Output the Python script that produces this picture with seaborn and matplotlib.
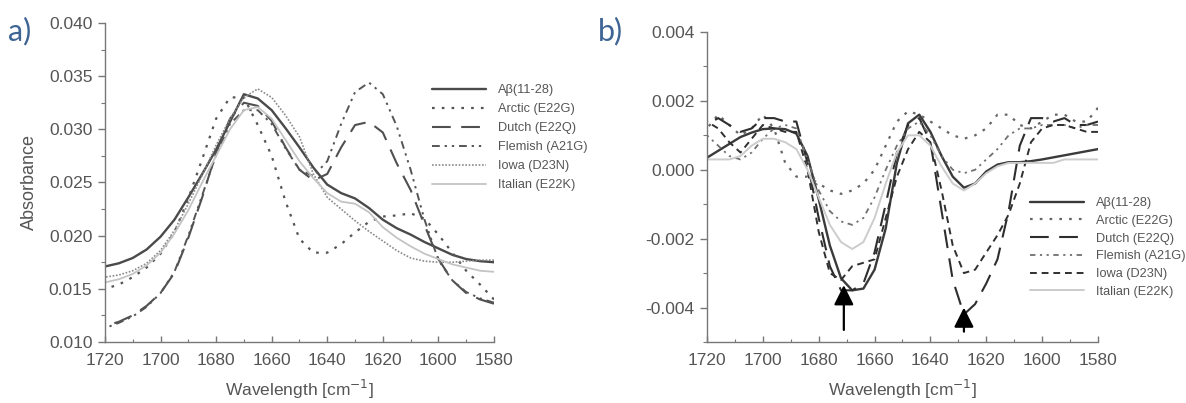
import numpy as np
import pandas as pd
import matplotlib
matplotlib.use("Agg")
import matplotlib.pyplot as plt
from matplotlib.ticker import MultipleLocator, FormatStrFormatter
import seaborn as sns

# Panel a: absorbance spectra, sampled every 5 cm-1
wn_a = list(range(1720, 1579, -5))
abs_ab = [0.0171, 0.0174, 0.0179, 0.0187, 0.0199, 0.0215, 0.0236, 0.0258, 0.0281, 0.0307,
          0.0333, 0.0329, 0.0318, 0.0301, 0.0283, 0.0264, 0.0248, 0.0240, 0.0235, 0.0226,
          0.0215, 0.0207, 0.0201, 0.0194, 0.0188, 0.0182, 0.0178, 0.0176, 0.0175]
abs_arctic = [0.0150, 0.0154, 0.0161, 0.0170, 0.0183, 0.0203, 0.0235, 0.0272, 0.0310, 0.0330,
              0.0330, 0.0304, 0.0275, 0.0232, 0.0197, 0.0184, 0.0184, 0.0192, 0.0203, 0.0213,
              0.0218, 0.0219, 0.0221, 0.0216, 0.0201, 0.0184, 0.0167, 0.0154, 0.0140]
abs_dutch = [0.0115, 0.0119, 0.0125, 0.0134, 0.0146, 0.0165, 0.0198, 0.0236, 0.0278, 0.0310,
             0.0325, 0.0322, 0.0308, 0.0283, 0.0262, 0.0252, 0.0258, 0.0283, 0.0304, 0.0307,
             0.0297, 0.0268, 0.0243, 0.0210, 0.0178, 0.0158, 0.0146, 0.0140, 0.0136]
abs_flemish = [0.0113, 0.0118, 0.0124, 0.0133, 0.0146, 0.0166, 0.0200, 0.0238, 0.0276, 0.0305,
               0.0318, 0.0318, 0.0305, 0.0282, 0.0262, 0.0256, 0.0270, 0.0305, 0.0335, 0.0344,
               0.0333, 0.0303, 0.0262, 0.0215, 0.0177, 0.0158, 0.0147, 0.0141, 0.0137]
abs_iowa = [0.0161, 0.0163, 0.0167, 0.0174, 0.0186, 0.0205, 0.0230, 0.0257, 0.0285, 0.0310,
            0.0330, 0.0338, 0.0330, 0.0313, 0.0293, 0.0258, 0.0236, 0.0225, 0.0214, 0.0204,
            0.0195, 0.0186, 0.0179, 0.0176, 0.0175, 0.0175, 0.0176, 0.0177, 0.0177]
abs_italian = [0.0156, 0.0159, 0.0164, 0.0172, 0.0184, 0.0202, 0.0224, 0.0250, 0.0275, 0.0300,
               0.0318, 0.0321, 0.0310, 0.0290, 0.0270, 0.0254, 0.0240, 0.0232, 0.0230, 0.0222,
               0.0208, 0.0198, 0.0190, 0.0183, 0.0178, 0.0173, 0.0170, 0.0167, 0.0166]

# Panel b: second derivative, sampled every 4 cm-1
wn_b = list(range(1720, 1579, -4))
d2_ab = [0.00035, 0.00055, 0.00075, 0.00095, 0.00108, 0.00118, 0.00120, 0.00118, 0.00105, 0.00040,
         -0.00085, -0.00220, -0.00315, -0.00350, -0.00345, -0.00290, -0.00170, 0.00020, 0.00135, 0.00160,
         0.00110, 0.00040, -0.00020, -0.00052, -0.00040, -0.00005, 0.00015, 0.00022, 0.00022, 0.00025,
         0.00030, 0.00036, 0.00042, 0.00048, 0.00054, 0.00060]
d2_arctic = [0.0012, 0.0016, 0.0013, 0.0010, 0.0012, 0.0016, 0.0012, 0.0002, -0.0002, -0.0002,
             -0.0004, -0.0006, -0.0007, -0.0006, -0.0004, 0.0000, 0.0007, 0.0014, 0.0017, 0.0016,
             0.0014, 0.0012, 0.0010, 0.0009, 0.0010, 0.0012, 0.0016, 0.0016, 0.0013, 0.0012,
             0.0014, 0.0016, 0.0016, 0.0014, 0.0014, 0.0018]
d2_dutch = [0.0013, 0.0015, 0.0013, 0.0011, 0.0012, 0.0015, 0.0015, 0.0014, 0.0014, 0.0002,
            -0.0014, -0.0028, -0.0035, -0.0035, -0.0033, -0.0024, -0.0010, 0.0005, 0.0013, 0.0015,
            0.0008, -0.0012, -0.0032, -0.0042, -0.0039, -0.0033, -0.0026, -0.0012, 0.0007, 0.0015,
            0.0015, 0.0014, 0.0015, 0.0013, 0.0013, 0.0014]
d2_flemish = [0.0010, 0.0007, 0.0004, 0.0003, 0.0005, 0.0009, 0.0012, 0.0013, 0.0012, 0.0003,
              -0.0006, -0.0012, -0.0015, -0.0016, -0.0014, -0.0008, 0.0000, 0.0007, 0.0012, 0.0014,
              0.0010, 0.0004, 0.0000, -0.0001, 0.0000, 0.0003, 0.0006, 0.0010, 0.0012, 0.0012,
              0.0013, 0.0013, 0.0013, 0.0012, 0.0013, 0.0013]
d2_iowa = [0.0014, 0.0012, 0.0008, 0.0005, 0.0009, 0.0013, 0.0012, 0.0011, 0.0011, 0.0000,
           -0.0018, -0.0030, -0.0032, -0.0028, -0.0027, -0.0026, -0.0014, -0.0002, 0.0006, 0.0011,
           0.0008, -0.0006, -0.0022, -0.0030, -0.0029, -0.0024, -0.0019, -0.0013, -0.0004, 0.0008,
           0.0012, 0.0013, 0.0013, 0.0012, 0.0011, 0.0011]
d2_italian = [0.0003, 0.0003, 0.0003, 0.0004, 0.0007, 0.0009, 0.0009, 0.0008, 0.0006, 0.0000,
              -0.0008, -0.0016, -0.0021, -0.0023, -0.0021, -0.0014, -0.0004, 0.0005, 0.0010, 0.0010,
              0.0007, 0.0001, -0.0004, -0.0006, -0.0004, -0.0001, 0.0001, 0.0002, 0.0002, 0.0002,
              0.0002, 0.0002, 0.0003, 0.0003, 0.0003, 0.0003]

labels = ["A\u03b2(11-28)", "Arctic (E22G)", "Dutch (E22Q)", "Flemish (A21G)", "Iowa (D23N)", "Italian (E22K)"]

# arrows marking the two bands in panel b
arrow_x = [1671, 1628]
arrow_tip = [-0.00335, -0.00400]
arrow_tail = [-0.00465, -0.00470]

sns.set_theme(style="white")
plt.rcParams["font.family"] = ["Liberation Sans", "DejaVu Sans"]
plt.rcParams["axes.unicode_minus"] = False

TXT = "#555555"

styles_a = [
    dict(color="#4a4a4a", linestyle="-", linewidth=1.7),
    dict(color="#555555", linestyle=(0, (1.2, 3.2)), linewidth=1.6),
    dict(color="#505050", linestyle=(0, (9, 5)), linewidth=1.5),
    dict(color="#555555", linestyle=(0, (4, 2.5, 1.2, 2.5, 1.2, 2.5)), linewidth=1.4),
    dict(color="#8a8a8a", linestyle=(0, (1, 1)), linewidth=1.2),
    dict(color="#c4c4c4", linestyle="-", linewidth=1.3),
]
styles_b = [
    dict(color="#3a3a3a", linestyle="-", linewidth=1.7),
    dict(color="#666666", linestyle=(0, (1.2, 3.2)), linewidth=1.6),
    dict(color="#2e2e2e", linestyle=(0, (9, 5)), linewidth=1.5),
    dict(color="#707070", linestyle=(0, (3, 2.5, 1.2, 2.5, 1.2, 2.5)), linewidth=1.3),
    dict(color="#303030", linestyle=(0, (3.5, 2.5)), linewidth=1.4),
    dict(color="#cccccc", linestyle="-", linewidth=1.4),
]

fig = plt.figure(figsize=(11.86, 4.03), dpi=100)
ax_a = fig.add_axes([0.0885, 0.1514, 0.328, 0.7916])
ax_b = fig.add_axes([0.5961, 0.1514, 0.3297, 0.7692])

series_a = [abs_ab, abs_arctic, abs_dutch, abs_flemish, abs_iowa, abs_italian]
series_b = [d2_ab, d2_arctic, d2_dutch, d2_flemish, d2_iowa, d2_italian]

for vals, lab, st in zip(series_a, labels, styles_a):
    sns.lineplot(x=wn_a, y=vals, ax=ax_a, label=lab, legend=False, **st)
for vals, lab, st in zip(series_b, labels, styles_b):
    sns.lineplot(x=wn_b, y=vals, ax=ax_b, label=lab, legend=False, **st)

for x, tip, tail in zip(arrow_x, arrow_tip, arrow_tail):
    ax_b.annotate("", xy=(x, tip), xytext=(x, tail),
                  arrowprops=dict(arrowstyle="-|>,head_width=0.5,head_length=1.0",
                                  color="black", lw=1.6, shrinkA=0, shrinkB=0))


def style_axis(ax, ylim, ymajor, yminor, fmt):
    ax.set_xlim(1720, 1580)
    ax.set_ylim(*ylim)
    ax.xaxis.set_major_locator(MultipleLocator(20))
    ax.xaxis.set_minor_locator(MultipleLocator(10))
    ax.yaxis.set_major_locator(MultipleLocator(ymajor))
    ax.yaxis.set_minor_locator(MultipleLocator(yminor))
    ax.yaxis.set_major_formatter(FormatStrFormatter(fmt))
    for side in ["top", "right"]:
        ax.spines[side].set_visible(False)
    for side in ["left", "bottom"]:
        ax.spines[side].set_color("#777777")
        ax.spines[side].set_linewidth(1.0)
    ax.tick_params(axis="y", which="major", direction="out", length=5, width=1,
                   color="#777777", labelsize=12.5, labelcolor=TXT, pad=4, left=True)
    ax.tick_params(axis="y", which="minor", direction="out", length=3, width=0.8,
                   color="#777777", left=True)
    ax.tick_params(axis="x", which="major", direction="in", length=4, width=1,
                   color="#777777", labelsize=12.5, labelcolor=TXT, pad=8, bottom=True)
    ax.tick_params(axis="x", which="minor", direction="in", length=2.5, width=0.8,
                   color="#777777", bottom=True)
    ax.set_xlabel("Wavelength [cm$^{-1}$]", fontsize=12.5, color=TXT, labelpad=7)
    ax.grid(False)


style_axis(ax_a, (0.010, 0.040), 0.005, 0.0025, "%.3f")
style_axis(ax_b, (-0.005, 0.004), 0.002, 0.001, "%.3f")
ax_a.set_ylabel("Absorbance", fontsize=13, color=TXT, labelpad=8)

handles_a, _ = ax_a.get_legend_handles_labels()
handles_b, _ = ax_b.get_legend_handles_labels()
leg_kw = dict(frameon=False, fontsize=9.2, handlelength=4.2, handletextpad=1.0,
              borderpad=0, borderaxespad=0, loc="upper left",
              bbox_transform=fig.transFigure, labelcolor=TXT)
fig.legend(handles_a, labels, bbox_to_anchor=(432 / 1186, 1 - 84 / 403),
           labelspacing=0.55, **leg_kw)
fig.legend(handles_b, labels, bbox_to_anchor=(1030 / 1186, 1 - 197 / 403),
           labelspacing=0.45, **leg_kw)

fig.text(8 / 1186, 1 - 31 / 403, "a)", fontsize=22, color="#3d6494", va="center",
         family=["Lato", "DejaVu Sans"])
fig.text(598 / 1186, 1 - 31 / 403, "b)", fontsize=22, color="#3d6494", va="center",
         family=["Lato", "DejaVu Sans"])

fig.savefig("out.png", dpi=100, facecolor="white")
